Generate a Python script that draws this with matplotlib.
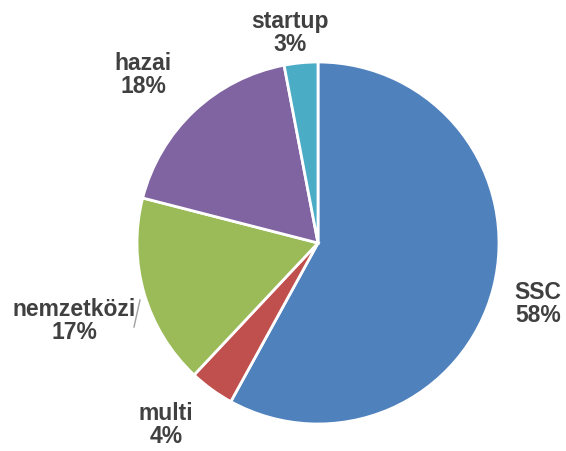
import matplotlib.pyplot as plt

# data
categories = ['SSC', 'multi', 'nemzetközi', 'hazai', 'startup']
shares = [58, 4, 17, 18, 3]
colors = ['#4F81BD', '#C0504D', '#9BBB59', '#8064A2', '#4BACC6']

# label placement (pixel coords, origin top-left)
label_pos = [(538, 304), (166, 425), (74, 321), (143, 75), (290, 33)]

W, H = 566, 451
fig = plt.figure(figsize=(W / 100, H / 100), dpi=100)
ax = fig.add_axes([0, 0, 1, 1])

cx, cy, r = 318, H - 243, 181
ax.pie(shares, colors=colors, startangle=90, counterclock=False,
       center=(cx, cy), radius=r, frame=True,
       wedgeprops=dict(edgecolor='white', linewidth=2))
ax.set_xlim(0, W)
ax.set_ylim(0, H)
ax.set_aspect('equal')
ax.axis('off')

for name, val, (x, y) in zip(categories, shares, label_pos):
    ax.text(x, H - y, f'{name}\n{val}%', ha='center', va='center',
            fontsize=16.5, fontweight='bold', color='#404040',
            family='Liberation Sans', linespacing=1.05)

# leader line for nemzetközi
ax.plot([134, 140], [H - 327, H - 300], color='#A0A0A0', lw=1)

fig.savefig('out.png', dpi=100)
